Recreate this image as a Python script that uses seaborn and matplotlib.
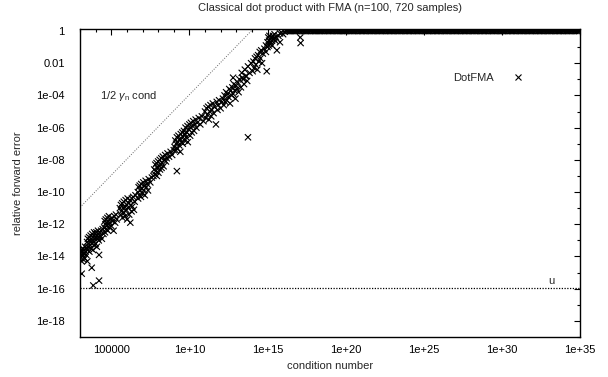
import numpy as np
import pandas as pd
import matplotlib
matplotlib.use("Agg")
import matplotlib.pyplot as plt
import matplotlib.ticker as mticker
import seaborn as sns

# ---------------- data (log10 values) ----------------
slope_logx = [
    # lower-left cluster and outliers
    3.00, 3.03, 3.05, 3.08, 3.10, 3.12, 3.15, 3.17, 3.20, 3.22, 3.25, 3.28, 3.30, 3.33, 3.36, 3.40, 3.43,
    3.11, 3.75, 3.85, 4.22, 4.22, 3.47,
    3.45, 3.48, 3.50, 3.53, 3.55, 3.58, 3.60, 3.62, 3.65, 3.68, 3.70, 3.72, 3.75, 3.78, 3.80, 3.83,
    3.85, 3.88, 3.90, 3.93, 3.95, 3.98, 4.00, 4.03, 4.05, 4.08, 4.10, 4.13, 4.15, 4.18, 4.20, 4.25,
    4.30, 4.35, 4.40, 4.45, 4.50,
    4.55, 4.58, 4.60, 4.63, 4.65, 4.68, 4.70, 4.73, 4.75, 4.78, 4.80, 4.83, 4.85, 4.88, 4.90, 4.95,
    5.00, 5.05, 5.10, 5.15, 5.20, 5.25, 5.30, 5.35,
    5.55, 5.60, 5.62, 5.65, 5.70, 5.72, 5.75, 5.80, 5.82, 5.85, 5.90, 5.92, 5.95, 6.00, 6.02, 6.05,
    6.10, 6.12, 6.15, 6.20, 6.22, 6.25, 6.30, 6.32, 6.35, 6.40, 6.45, 6.50, 6.55,
    6.70, 6.72, 6.75, 6.80, 6.82, 6.85, 6.90, 6.92, 6.95, 7.00, 7.05, 7.08, 7.10, 7.15, 7.20, 7.25,
    7.30, 7.35, 7.40, 7.50, 7.60, 7.70,
    7.75, 7.80, 7.82, 7.85, 7.90, 7.92, 7.95, 8.00, 8.02, 8.05, 8.10, 8.12, 8.15, 8.20, 8.22, 8.25,
    8.30, 8.35, 8.40, 8.45, 8.50, 8.55, 8.60, 8.70, 8.80, 8.90, 9.00, 9.20,
    9.05, 9.10, 9.12, 9.15, 9.20, 9.25, 9.28, 9.30, 9.35, 9.40, 9.42, 9.45, 9.50, 9.55, 9.58, 9.60,
    9.65, 9.70, 9.72, 9.75, 9.80, 9.85, 9.88, 9.90, 9.95, 10.00, 10.05, 10.08, 10.10, 10.15, 10.20,
    10.25, 10.30, 10.35, 10.40, 10.45, 10.50, 10.60, 10.70, 10.80, 10.90,
    11.00, 11.05, 11.10, 11.15, 11.20, 11.25, 11.30, 11.35, 11.40, 11.45, 11.50, 11.55, 11.60, 11.70,
    11.75, 11.80, 11.85, 11.90, 12.00, 12.10,
    12.15, 12.20, 12.25, 12.30, 12.35, 12.40, 12.45, 12.50, 12.55, 12.60, 12.65, 12.70, 12.75, 12.80,
    12.85, 12.90, 12.95, 13.00, 13.05, 13.10, 13.15, 13.20, 13.30, 13.40, 13.50, 13.60, 13.70, 13.75,
    13.35, 13.45, 13.55, 13.65, 13.75, 13.85, 13.95, 14.05, 14.10, 14.15, 14.20, 14.25, 14.30, 14.35,
    14.40, 14.45, 14.50, 14.55, 14.60, 14.65, 14.70, 14.80, 14.90, 14.95, 15.00, 12.80, 14.90,
    15.00, 15.05, 15.08, 15.10, 15.12, 15.15, 15.18, 15.20, 15.25, 15.28, 15.30, 15.35, 15.40, 15.45,
    15.50, 15.55, 15.60, 15.70, 15.80, 15.90, 16.00, 16.10, 15.40, 15.80,
    17.10, 17.12,
]
slope_logy = [
    -13.8, -14.1, -13.6, -13.9, -14.3, -13.7, -14.0, -13.5, -13.9, -14.2, -13.6, -13.8, -14.1, -13.4, -13.7, -13.9, -13.5,
    -15.07, -14.7, -15.8, -15.5, -13.9, -14.3,
    -13.1, -13.6, -12.9, -13.4, -13.2, -12.8, -13.7, -13.0, -13.3, -12.7, -13.5, -12.9, -13.2, -12.6, -13.0, -13.6,
    -12.8, -13.1, -12.5, -13.3, -12.9, -12.6, -13.2, -12.8, -12.5, -13.4, -12.7, -12.9, -12.4, -12.8, -13.0, -12.5,
    -12.7, -12.4, -12.9, -12.3, -12.6,
    -12.2, -11.8, -12.5, -12.0, -11.7, -12.3, -11.9, -12.1, -11.6, -12.4, -11.8, -12.0, -11.5, -12.2, -11.9, -11.7,
    -12.1, -11.6, -11.8, -12.4, -11.5, -11.9, -11.4, -11.7,
    -11.0, -11.4, -10.8, -11.2, -10.7, -11.6, -11.0, -10.6, -11.3, -10.9, -11.5, -10.5, -11.1, -10.8, -11.7, -10.4,
    -11.0, -10.7, -11.4, -10.5, -11.9, -10.8, -11.2, -10.4, -10.9, -10.3, -11.1, -10.6, -10.2,
    -10.0, -10.4, -9.7, -10.2, -9.6, -9.9, -10.3, -9.5, -9.8, -10.1, -9.4, -9.9, -9.6, -10.2, -9.3, -9.7,
    -9.5, -9.9, -9.2, -9.4, -9.1, -9.0,
    -8.6, -8.9, -8.3, -8.7, -8.2, -9.0, -8.5, -8.1, -8.8, -8.4, -8.0, -8.6, -8.3, -7.9, -8.5, -8.2,
    -7.8, -8.4, -8.0, -7.7, -8.1, -7.9, -7.6, -7.8, -7.5, -7.7, -7.4, -8.7,
    -7.2, -6.8, -7.4, -7.0, -6.6, -7.3, -6.9, -6.5, -7.1, -6.7, -7.5, -6.4, -6.9, -6.3, -7.0, -6.6,
    -6.2, -6.8, -6.4, -6.0, -6.6, -6.3, -5.9, -6.9, -6.1, -5.8, -6.5, -6.0, -5.7, -6.3, -5.9,
    -5.6, -6.2, -5.8, -5.5, -6.0, -5.7, -5.4, -5.8, -5.3, -5.6,
    -5.0, -5.4, -4.8, -5.2, -4.7, -5.5, -5.0, -4.6, -5.3, -4.9, -4.5, -5.1, -4.7, -5.8,
    -4.4, -4.9, -4.6, -4.3, -4.8, -4.4,
    -4.2, -4.6, -4.0, -4.4, -3.8, -4.3, -3.9, -4.1, -3.6, -4.5, -3.7, -4.0, -3.5, -3.9,
    -3.3, -3.7, -4.2, -3.4, -3.6, -3.2, -3.8, -3.0, -3.5, -2.9, -3.3, -2.8, -3.1, -6.6,
    -2.6, -3.0, -2.4, -2.8, -2.2, -2.6, -2.0, -2.5, -1.9, -2.3, -1.7, -2.1, -1.6, -2.4,
    -1.5, -1.9, -1.3, -1.7, -1.2, -2.0, -1.4, -1.1, -1.3, -2.5, -1.0, -2.9, -0.9,
    -0.7, -0.4, -0.9, -0.6, -0.3, -0.8, -0.5, -0.7, -0.4, -0.6, -0.9, -0.3, -0.5, -0.2,
    -0.6, -0.4, -1.2, -0.3, -0.15, -0.1, -0.2, -0.05, -0.45, -0.7,
    -0.4, -0.75,
]
top_logx = [
    16.2, 16.35, 16.5, 16.6, 16.75, 16.9, 17.0, 17.2, 17.3, 17.45, 17.6, 17.8, 17.9, 18.05,
    18.2, 18.35, 18.5, 18.6, 18.8, 18.95, 19.1, 19.2, 19.4, 19.55, 19.7, 19.85, 20.0, 20.1,
    20.3, 20.45, 20.6, 20.7, 20.9, 21.05, 21.2, 21.3, 21.5, 21.65, 21.8, 21.9, 22.1, 22.25,
    22.4, 22.5, 22.7, 22.85, 23.0, 23.1, 23.3, 23.45, 23.6, 23.7, 23.9, 24.05, 24.2, 24.3,
    24.5, 24.65, 24.8, 24.9, 25.1, 25.25, 25.4, 25.5, 25.7, 25.85, 26.0, 26.1, 26.3, 26.45,
    26.6, 26.7, 26.9, 27.05, 27.2, 27.3, 27.5, 27.65, 27.8, 27.9, 28.1, 28.25, 28.4, 28.5,
    28.7, 28.85, 29.0, 29.1, 29.3, 29.45, 29.6, 29.7, 29.9, 30.05, 30.2, 30.3, 30.5, 30.65,
    30.8, 30.9, 31.1, 31.25, 31.4, 31.5, 31.7, 31.85, 32.0, 32.1, 32.3, 32.45, 32.6, 32.7,
    32.9, 33.05, 33.2, 33.3, 33.5, 33.65, 33.8, 33.9, 34.1, 34.25, 34.4, 34.5, 34.7, 34.85, 34.98,
]
top_logx_extra = [
    16.28, 16.42, 16.68, 16.82, 17.08, 17.38, 17.52, 17.7, 17.98, 18.12, 18.28, 18.42, 18.7,
    18.88, 19.02, 19.3, 19.48, 19.62, 19.78, 19.92, 20.2, 20.38, 20.52, 20.8, 20.98, 21.12,
    21.4, 21.58, 21.72, 22.0, 22.18, 22.32, 22.6, 22.78, 22.92, 23.2, 23.38, 23.52, 23.8,
    23.98, 24.12, 24.4, 24.58, 24.72, 25.0, 25.18, 25.32, 25.6, 25.78, 25.92, 26.2, 26.38,
    26.52, 26.8, 26.98, 27.12, 27.4, 27.58, 27.72, 28.0, 28.18, 28.32, 28.6, 28.78, 28.92,
    29.2, 29.38, 29.52, 29.8, 29.98, 30.12, 30.4, 30.58, 30.72, 31.0, 31.18, 31.32, 31.6,
    31.78, 31.92, 32.2, 32.38, 32.52, 32.8, 32.98, 33.12, 33.4, 33.58, 33.72, 34.0, 34.18,
    34.32, 34.6, 34.78, 34.92,
]
top_value = 1.0

gamma_line_x = [1e3, 1e35]
gamma_line_y = [1.11e-11, 1.11e21]
u_value = 1.11e-16

x_ticks = [1e5, 1e10, 1e15, 1e20, 1e25, 1e30, 1e35]
x_tick_labels = ["100000", "1e+10", "1e+15", "1e+20", "1e+25", "1e+30", "1e+35"]
y_ticks = [1, 1e-2, 1e-4, 1e-6, 1e-8, 1e-10, 1e-12, 1e-14, 1e-16, 1e-18]
y_tick_labels = ["1", "0.01", "1e-04", "1e-06", "1e-08", "1e-10", "1e-12", "1e-14", "1e-16", "1e-18"]

all_top = top_logx + top_logx_extra
cond = [10 ** v for v in slope_logx] + [10 ** v for v in all_top]
err = [10 ** v for v in slope_logy] + [top_value] * len(all_top)
df = pd.DataFrame({"cond": cond, "err": err, "series": "DotFMA"})

# ---------------- figure ----------------
sns.set_style("white")
plt.rcParams["font.family"] = ["Liberation Sans", "DejaVu Sans"]
plt.rcParams["mathtext.fontset"] = "custom"
plt.rcParams["mathtext.rm"] = "Liberation Sans"
plt.rcParams["mathtext.it"] = "Liberation Sans:italic"

fig = plt.figure(figsize=(6.08, 3.77), dpi=100)
ax = fig.add_axes([80 / 608, 1 - 337 / 377, 500 / 608, 308 / 377])

ax.plot(gamma_line_x, gamma_line_y, color="#666666", lw=0.7, linestyle=(0, (1, 1.6)))
ax.axhline(u_value, color="black", lw=0.9, linestyle=(0, (1, 1.2)))

sns.scatterplot(data=df, x="cond", y="err", hue="series", palette=["black"],
                marker="x", s=20, linewidth=0.8, ax=ax, legend=True, zorder=3)

ax.set_xscale("log")
ax.set_yscale("log")
ax.set_xlim(1e3, 1e35)
ax.set_ylim(1e-19, 1.33)

ax.xaxis.set_major_locator(mticker.FixedLocator(x_ticks))
ax.xaxis.set_major_formatter(mticker.FixedFormatter(x_tick_labels))
ax.xaxis.set_minor_locator(mticker.FixedLocator([10.0 ** k for k in range(3, 36)]))
ax.xaxis.set_minor_formatter(mticker.NullFormatter())
ax.yaxis.set_major_locator(mticker.FixedLocator(y_ticks))
ax.yaxis.set_major_formatter(mticker.FixedFormatter(y_tick_labels))
ax.yaxis.set_minor_locator(mticker.FixedLocator([10.0 ** k for k in range(-19, 1)]))
ax.yaxis.set_minor_formatter(mticker.NullFormatter())

ax.tick_params(which="both", direction="in", top=True, right=True, colors="black",
               labelsize=8, width=0.8)
ax.tick_params(which="major", length=4.5)
ax.tick_params(which="minor", length=2.5)
ax.tick_params(axis="x", which="major", pad=6)
ax.tick_params(axis="y", which="major", pad=11)
for s in ax.spines.values():
    s.set_color("black")
    s.set_linewidth(1.0)

ax.set_xlabel("condition number", fontsize=8, labelpad=4)
ax.set_ylabel("relative forward error", fontsize=8, labelpad=9)
fig.suptitle("Classical dot product with FMA (n=100, 720 samples)", fontsize=8,
             x=330 / 608, y=1 - 3 / 377, va="top")

ax.text(0.04, 0.782, r"1/2 $\gamma_\mathregular{n}$ cond", transform=ax.transAxes,
        fontsize=8, va="center", ha="left")
ax.text(0.936, 0.182, "u", transform=ax.transAxes, fontsize=8, va="center", ha="left")

leg = ax.legend(loc="center right", bbox_to_anchor=(0.908, 0.842), frameon=False,
                markerfirst=False, fontsize=8, handletextpad=1.2, borderaxespad=0,
                title=None)
for h in leg.legend_handles:
    h.set_markersize(4.2)

fig.savefig("out.png", dpi=100)
